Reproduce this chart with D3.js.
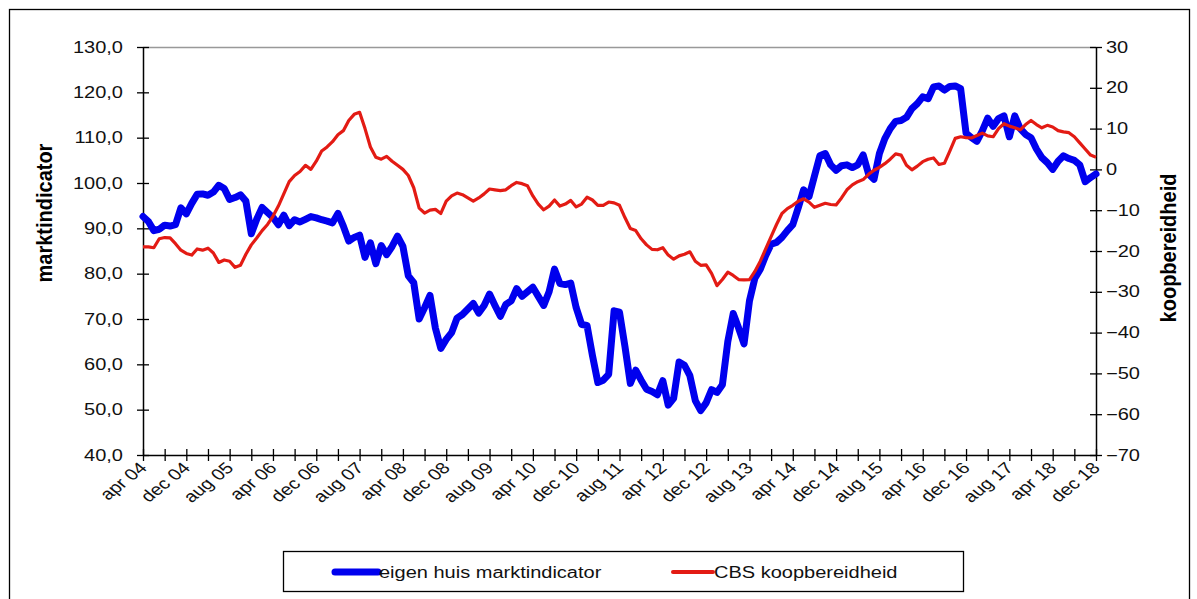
<!DOCTYPE html>
<html>
<head>
<meta charset="utf-8">
<script src="https://cdn.jsdelivr.net/npm/d3@7"></script>
<style>
  body { margin: 0; background: #fff; }
  svg { font-family: "Liberation Sans", Arial, sans-serif; }
</style>
</head>
<body>
<svg width="1197" height="599"></svg>
<script>
// maanden apr 04 .. dec 18
var monthNames = ['jan', 'feb', 'mrt', 'apr', 'mei', 'jun', 'jul', 'aug', 'sep', 'okt', 'nov', 'dec'];
var months = [];
for (var yr = 2004, mo = 3; yr < 2019;) {
  months.push(monthNames[mo] + ' ' + String(yr).slice(2));
  mo++;
  if (mo == 12) { mo = 0; yr++; }
}

var tickLabels = ['apr 04', 'dec 04', 'aug 05', 'apr 06', 'dec 06', 'aug 07', 'apr 08', 'dec 08',
  'aug 09', 'apr 10', 'dec 10', 'aug 11', 'apr 12', 'dec 12', 'aug 13', 'apr 14', 'dec 14',
  'aug 15', 'apr 16', 'dec 16', 'aug 17', 'apr 18', 'dec 18'];

var leftTicks = [40, 50, 60, 70, 80, 90, 100, 110, 120, 130];
var rightTicks = [-70, -60, -50, -40, -30, -20, -10, 0, 10, 20, 30];

// eigen huis marktindicator (linker as)
var marktindicator = [
  92.6, 91.5, 89.5, 89.8, 90.7, 90.5, 90.8, 94.5, 93.2, 95.5, 97.5, 97.6,
  97.3, 98.0, 99.5, 98.8, 96.4, 96.8, 97.4, 96.0, 88.8, 92.0, 94.6, 93.5,
  92.4, 90.8, 92.9, 90.6, 91.9, 91.4, 92.0, 92.6, 92.3, 91.9, 91.6, 91.2,
  93.3, 90.5, 87.2, 88.0, 88.5, 83.6, 86.8, 82.2, 86.2, 84.2, 86.0, 88.3,
  86.0, 79.5, 78.0, 70.0, 72.5, 75.2, 68.0, 63.5, 65.5, 67.0, 70.2, 71.0,
  72.2, 73.4, 71.3, 73.0, 75.5, 73.0, 70.6, 73.2, 74.0, 76.7, 75.0, 76.0,
  77.0, 75.0, 73.0, 76.0, 81.0, 77.8, 77.6, 77.9, 72.5, 68.8, 68.6, 62.0,
  56.0, 56.5, 57.8, 71.8, 71.5, 64.0, 55.8, 58.7, 56.5, 54.5, 54.0, 53.3,
  56.4, 51.0, 52.5, 60.5, 59.8, 57.5, 52.0, 49.8, 51.5, 54.4, 53.8, 55.5,
  65.0, 71.2, 68.0, 64.5, 74.0, 79.0, 81.0, 84.0, 86.5, 86.9, 88.0, 89.5,
  90.8, 94.5, 98.5, 97.0, 101.5, 106.0, 106.5, 104.0, 102.8, 103.8, 104.0, 103.4,
  104.0, 106.2, 102.0, 100.8, 106.5, 109.8, 112.0, 113.6, 113.8, 114.5, 116.4, 117.5,
  119.0, 118.6, 121.2, 121.4, 120.5, 121.3, 121.4, 120.8, 111.0, 110.0, 109.2, 111.5,
  114.3, 112.5, 114.2, 114.8, 110.2, 114.8, 112.0, 110.7, 110.0, 107.5, 105.6, 104.5,
  103.0, 104.8, 106.0, 105.4, 105.0, 104.0, 100.3, 101.2, 102.0
];

// CBS koopbereidheid (rechter as)
var koopbereidheid = [
  -19.0, -19.0, -19.2, -17.0, -16.7, -16.8, -18.2, -19.8, -20.6, -21.0, -19.5, -19.8,
  -19.3, -20.5, -22.8, -22.2, -22.5, -24.0, -23.5, -20.8, -18.5, -16.8, -15.0, -13.5,
  -11.5, -9.0, -6.0, -3.0, -1.5, -0.5, 1.0, 0.0, 2.0, 4.5, 5.5, 6.8,
  8.5, 9.5, 12.0, 13.5, 14.0, 10.0, 5.5, 3.0, 2.5, 3.2, 2.0, 1.0,
  0.0, -1.5, -4.5, -9.5, -10.7, -10.0, -9.8, -10.8, -7.8, -6.5, -5.8, -6.2,
  -7.0, -7.8, -7.0, -6.0, -4.8, -5.0, -5.2, -5.0, -4.0, -3.2, -3.5, -4.0,
  -6.5, -8.5, -9.9, -9.0, -7.5, -9.0, -8.5, -7.6, -9.2, -8.5, -6.8, -7.5,
  -8.8, -8.8, -8.0, -8.2, -8.8, -11.8, -14.5, -15.0, -17.0, -18.5, -19.6, -19.7,
  -19.2, -21.0, -22.0, -21.2, -20.8, -20.2, -22.5, -23.5, -23.4, -25.5, -28.5, -27.0,
  -25.2, -26.0, -27.0, -27.1, -27.0, -25.0, -22.5, -19.5, -16.5, -13.5, -10.8, -9.6,
  -8.8, -7.8, -7.2, -8.0, -9.3, -8.8, -8.3, -8.6, -8.7, -7.0, -5.0, -3.8,
  -3.0, -2.5, -1.2, -0.2, 0.5, 1.4, 2.5, 3.8, 3.5, 1.0, -0.1, 0.8,
  1.9, 2.5, 2.8, 1.2, 1.5, 4.5, 7.6, 8.0, 7.8, 7.7, 8.3, 8.9,
  8.2, 8.0, 10.0, 11.2, 10.6, 10.2, 9.7, 11.0, 12.0, 11.0, 10.2, 10.8,
  10.4, 9.5, 9.2, 9.0, 8.0, 6.5, 5.0, 3.5, 3.0
];

var svg = d3.select('svg');
var S = 1.25; // horizontale rek van de tekst

var plotLeft = 143, plotRight = 1096, plotTop = 47, plotBottom = 455;

var xScale = d3.scalePoint().domain(months).range([plotLeft, plotRight]);
var yLeft = d3.scaleLinear().domain([40, 130]).range([plotBottom, plotTop]);
var yRight = d3.scaleLinear().domain([-70, 30]).range([plotBottom, plotTop]);

var fmt = (d) => d.toFixed(1).replace('.', ',');

// kader
svg.append('rect')
  .attr('x', 9.5).attr('y', 9.5)
  .attr('width', 1180).attr('height', 620)
  .attr('fill', 'none').attr('stroke', '#000').attr('stroke-width', 1.3);

// bovenrand plotgebied
svg.append('line')
  .attr('x1', plotLeft).attr('x2', plotRight)
  .attr('y1', plotTop + 0.5).attr('y2', plotTop + 0.5)
  .attr('stroke', '#999').attr('stroke-width', 1.5);

// linker as
var gl = svg.append('g')
  .attr('transform', `translate(${plotLeft},0)`)
  .call(d3.axisLeft(yLeft).tickValues(leftTicks).tickSizeInner(6).tickSizeOuter(0).tickFormat(fmt));
gl.selectAll('.tick line').attr('x1', 6);
gl.selectAll('.tick text')
  .attr('x', 0)
  .attr('transform', `translate(-20,0) scale(${S},1)`)
  .attr('font-size', 16).attr('fill', '#111');

// rechter as
var gr = svg.append('g')
  .attr('transform', `translate(${plotRight},0)`)
  .call(d3.axisRight(yRight).tickValues(rightTicks).tickSizeInner(6).tickSizeOuter(0));
gr.selectAll('.tick line').attr('x1', -6);
gr.selectAll('.tick text')
  .attr('x', 0)
  .attr('transform', `translate(10,0) scale(${S},1)`)
  .attr('font-size', 16).attr('fill', '#111');

// x-as
var gx = svg.append('g')
  .attr('transform', `translate(0,${plotBottom})`)
  .call(d3.axisBottom(xScale)
    .tickValues(months.filter((m, i) => i % 4 == 0))
    .tickSizeInner(6).tickSizeOuter(0).tickFormat(''));
gx.selectAll('.tick line').attr('y1', -6);

svg.append('g')
  .selectAll('text')
  .data(tickLabels)
  .enter()
  .append('text')
  .attr('transform', (d) => `translate(${xScale(d) + 5},${plotBottom + 14}) scale(${S},1) rotate(-45)`)
  .attr('text-anchor', 'end')
  .attr('font-size', 16)
  .attr('fill', '#111')
  .text((d) => d);

[gl, gr, gx].forEach((g) => {
  g.select('.domain').attr('stroke', '#000').attr('stroke-width', 1.5);
  g.selectAll('.tick line').attr('stroke', '#000').attr('stroke-width', 1.3);
});

// lijnen
var lineLeft = d3.line()
  .x((d, i) => xScale(months[i]))
  .y((d) => yLeft(d));
var lineRight = d3.line()
  .x((d, i) => xScale(months[i]))
  .y((d) => yRight(d));

svg.append('path')
  .datum(marktindicator)
  .attr('d', lineLeft)
  .attr('fill', 'none')
  .attr('stroke', '#0000ee')
  .attr('stroke-width', 7)
  .attr('stroke-linejoin', 'round')
  .attr('stroke-linecap', 'round');

svg.append('path')
  .datum(koopbereidheid)
  .attr('d', lineRight)
  .attr('fill', 'none')
  .attr('stroke', '#e31b14')
  .attr('stroke-width', 3.2)
  .attr('stroke-linejoin', 'round');

// astitels
svg.append('text')
  .attr('transform', 'translate(52,213) scale(1.08,1) rotate(-90)')
  .attr('text-anchor', 'middle')
  .attr('font-size', 20)
  .attr('font-weight', 'bold')
  .text('marktindicator');

svg.append('text')
  .attr('transform', 'translate(1176,248) scale(1.08,1) rotate(-90)')
  .attr('text-anchor', 'middle')
  .attr('font-size', 20)
  .attr('font-weight', 'bold')
  .text('koopbereidheid');

// legenda
var legend = svg.append('g');
legend.append('rect')
  .attr('x', 283.5).attr('y', 551.5)
  .attr('width', 680).attr('height', 40)
  .attr('fill', '#fff').attr('stroke', '#000').attr('stroke-width', 1.3);

var legendItems = [
  { name: 'eigen huis marktindicator', color: '#0000ee', width: 7, x0: 335, x1: 378 },
  { name: 'CBS koopbereidheid', color: '#e31b14', width: 4, x0: 673, x1: 713 }
];

legendItems.forEach((it) => {
  legend.append('line')
    .attr('x1', it.x0).attr('x2', it.x1)
    .attr('y1', 572).attr('y2', 572)
    .attr('stroke', it.color)
    .attr('stroke-width', it.width)
    .attr('stroke-linecap', 'round');
  legend.append('text')
    .attr('transform', `translate(${it.x1 + 1},578) scale(${S},1)`)
    .attr('font-size', 16)
    .attr('fill', '#111')
    .text(it.name);
});
</script>
</body>
</html>
